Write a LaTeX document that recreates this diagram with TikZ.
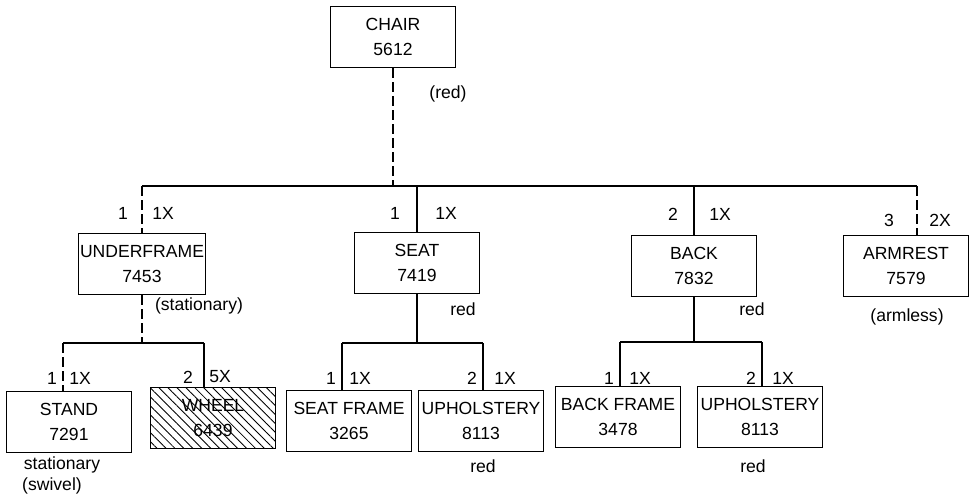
\documentclass[tikz,border=0pt]{standalone}
\usepackage{fontspec}
\setmainfont{Liberation Sans}
\usetikzlibrary{positioning, patterns.meta}

\begin{document}
\begin{tikzpicture}[x=0.02cm, y=-0.02cm,
    part/.style={rectangle, draw, line width=0.6pt, minimum width=2.5cm, minimum height=1.22cm, align=center, font=\fontsize{10}{14.5}\selectfont, inner sep=1pt},
    hatched/.style={pattern={Lines[angle=135, distance=3.6pt, line width=0.5pt]}},
    lab/.style={font=\fontsize{10}{12}\selectfont, inner sep=0pt},
    link/.style={line width=1.2pt},
    opt/.style={line width=0.6pt, dash pattern=on 5.5pt off 2.5pt}
]
\useasboundingbox (0,0) rectangle (970,497);

% parts
\node[part] (chair) at (393,37) {CHAIR\\5612};
\node[part] (uf) at (142,264) {UNDERFRAME\\7453};
\node[part] (seat) at (417,263) {SEAT\\7419};
\node[part] (back) at (694,266) {BACK\\7832};
\node[part] (arm) at (906,266) {ARMREST\\7579};
\node[part] (stand) at (69,422) {STAND\\7291};
\node[part, hatched] (wheel) at (213,418) {WHEEL\\6439};
\node[part] (sframe) at (349,421) {SEAT FRAME\\3265};
\node[part] (uph1) at (481,421) {UPHOLSTERY\\8113};
\node[part] (bframe) at (618,417) {BACK FRAME\\3478};
\node[part] (uph2) at (760,417) {UPHOLSTERY\\8113};

% bar ends
\coordinate (top-l) at (142,186);
\coordinate (top-r) at (917,186);
\coordinate (uf-l) at (63,343);
\coordinate (uf-r) at (204,343);
\coordinate (seat-l) at (342,343);
\coordinate (seat-r) at (483,343);
\coordinate (back-l) at (620,342);
\coordinate (back-r) at (762,342);

% level 1
\draw[opt] (chair.south) -- (chair.south |- top-l);
\draw[link] (top-l) -- (top-r);
\draw[opt] (top-l) -- (top-l |- uf.north);
\draw[link] (seat.north |- top-l) -- (seat.north);
\draw[link] (back.north |- top-l) -- (back.north);
\draw[opt] (top-r) -- (top-r |- arm.north);

% level 2
\draw[opt] (uf.south) -- (uf.south |- uf-l);
\draw[link] (uf-l) -- (uf-r);
\draw[opt] (uf-l) -- (uf-l |- stand.north);
\draw[link] (uf-r) -- (uf-r |- wheel.north);

\draw[link] (seat.south) -- (seat.south |- seat-l);
\draw[link] (seat-l) -- (seat-r);
\draw[link] (seat-l) -- (seat-l |- sframe.north);
\draw[link] (seat-r) -- (seat-r |- uph1.north);

\draw[link] (back.south) -- (back.south |- back-l);
\draw[link] (back-l) -- (back-r);
\draw[link] (back-l) -- (back-l |- bframe.north);
\draw[link] (back-r) -- (back-r |- uph2.north);

% position and quantity
\node[lab] (uf-n) at (123,213) {1};
\node[lab] (uf-q) at (163,213) {1X};
\node[lab] (seat-n) at (395,213) {1};
\node[lab] (seat-q) at (446,213) {1X};
\node[lab] (back-n) at (673,214) {2};
\node[lab] (back-q) at (720,214) {1X};
\node[lab] (arm-n) at (889,220) {3};
\node[lab] (arm-q) at (940,220) {2X};
\node[lab] (stand-n) at (52,378) {1};
\node[lab] (stand-q) at (80,378) {1X};
\node[lab] (wheel-n) at (188,377) {2};
\node[lab] (wheel-q) at (220,377) {5X};
\node[lab] (sframe-n) at (331,378) {1};
\node[lab] (sframe-q) at (360,378) {1X};
\node[lab] (uph1-n) at (472,378) {2};
\node[lab] (uph1-q) at (505,378) {1X};
\node[lab] (bframe-n) at (609,378) {1};
\node[lab] (bframe-q) at (640,378) {1X};
\node[lab] (uph2-n) at (751,378) {2};
\node[lab] (uph2-q) at (783,378) {1X};

% variants
\node[lab] (chair-v) at (448,94) {(red)};
\node[lab] (uf-v) at (199,306) {(stationary)};
\node[lab] (seat-v) at (463,309) {red};
\node[lab] (back-v) at (752,309) {red};
\node[lab] (arm-v) at (907,317) {(armless)};
\node[lab] (stand-v) at (62,465) {stationary};
\node[lab] (stand-w) at (52,486) {(swivel)};
\node[lab] (uph1-v) at (483,466) {red};
\node[lab] (uph2-v) at (753,466) {red};

\end{tikzpicture}
\end{document}
